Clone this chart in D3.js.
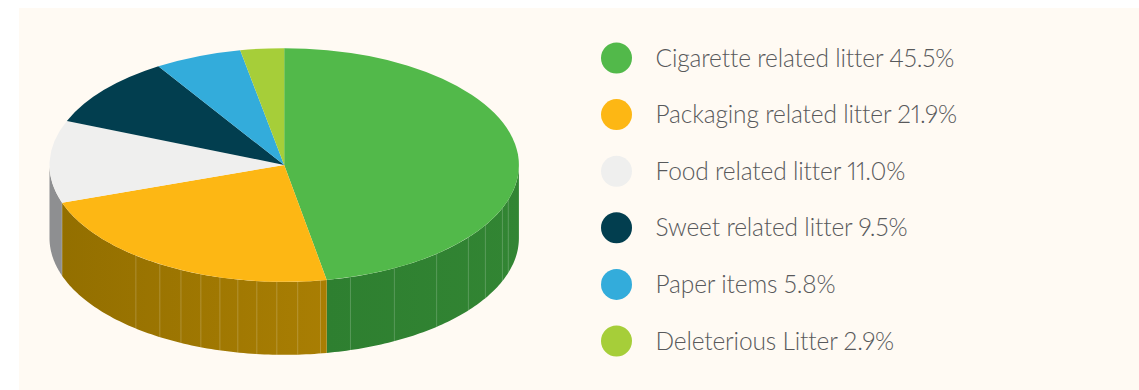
<!DOCTYPE html>
<html>
<head>
<meta charset="utf-8">
<script src="https://cdn.jsdelivr.net/npm/d3@7"></script>
<style>
  html, body { margin: 0; padding: 0; background: #ffffff; }
  svg { display: block; }
  text { font-family: Lato, "Open Sans", sans-serif; font-weight: 300; font-variant-numeric: proportional-nums; font-feature-settings: "pnum" 1; letter-spacing: -0.15px; }
</style>
</head>
<body>
<svg id="chart" width="1139" height="390"></svg>
<script>
// Litter composition
const categories = ["Cigarette related litter", "Packaging related litter", "Food related litter", "Sweet related litter", "Paper items", "Deleterious Litter"];
const shares = [45.5, 21.9, 11.0, 9.5, 5.8, 2.9];
const shareLabels = ["45.5%", "21.9%", "11.0%", "9.5%", "5.8%", "2.9%"];
const topColors = ["#52b94a", "#fdb714", "#efefee", "#023e4f", "#33acdb", "#a6ce39"];
const wallStart = ["#328533", "#a97e03", "#8e8f91", "#023e4f", "#33acdb", "#a6ce39"];
const wallEnd = ["#2e7f30", "#936f00", "#8e8f91", "#023e4f", "#33acdb", "#a6ce39"];
// Seams between the side-wall facets, in degrees clockwise from twelve o'clock
const seamDegrees = [107.3, 111.6, 121, 128.3, 139.5, 152, 163.6, 171.1, 176.7, 181.8, 186.7, 191.4, 195.9, 200.8, 206.1, 212, 219.2, 251.2];

const W = 1139, H = 390;
const radius = 234.7, tilt = 117 / 235, depth = 73;
const cx = 284.2, cy = 165;

const svg = d3.select("#chart");
svg.append("rect").attr("x", 19).attr("y", 8).attr("width", W - 19).attr("height", H - 8).attr("fill", "#fffaf3");

const pie = d3.pie().sort(null).value(d => d);
const arcs = pie(shares);
const arc = d3.arc().innerRadius(0).outerRadius(radius);

// Projects a clockwise angle (radians from twelve o'clock) onto the tilted disc
const rimX = a => cx + radius * Math.sin(a);
const rimY = a => cy - radius * tilt * Math.cos(a);
const rim = d3.line().x(d => rimX(d.a)).y(d => rimY(d.a) + d.z);

const defs = svg.append("defs");
const chart = svg.append("g");

// Side walls: only the part of each slice facing the viewer
const front = [Math.PI / 2, Math.PI * 3 / 2];
arcs.forEach((d, i) => {
  const a0 = Math.max(d.startAngle, front[0]);
  const a1 = Math.min(d.endAngle, front[1]);
  if (a1 <= a0) return;
  const angles = d3.range(0, 81).map(k => a0 + (a1 - a0) * k / 80);
  const outline = angles.map(a => ({ a, z: 0 })).concat(angles.slice().reverse().map(a => ({ a, z: depth })));
  const grad = defs.append("linearGradient").attr("id", "wall" + i)
    .attr("gradientUnits", "userSpaceOnUse")
    .attr("x1", rimX(a0)).attr("x2", rimX(a1)).attr("y1", 0).attr("y2", 0);
  grad.append("stop").attr("offset", 0).attr("stop-color", wallStart[i]);
  grad.append("stop").attr("offset", 1).attr("stop-color", wallEnd[i]);
  chart.append("path").attr("d", rim(outline) + "Z").attr("fill", `url(#wall${i})`);
});

chart.selectAll("line.seam").data(seamDegrees).join("line").attr("class", "seam")
  .attr("x1", d => rimX(d * Math.PI / 180))
  .attr("x2", d => rimX(d * Math.PI / 180))
  .attr("y1", d => rimY(d * Math.PI / 180))
  .attr("y2", d => rimY(d * Math.PI / 180) + depth)
  .attr("stroke", "#ffffff").attr("stroke-opacity", 0.2).attr("stroke-width", 1);

// Top face of the disc
chart.append("g")
  .attr("transform", `translate(${cx},${cy}) scale(1,${tilt})`)
  .selectAll("path").data(arcs).join("path")
  .attr("d", arc)
  .attr("fill", (d, i) => topColors[i]);

// Legend
const legendY = d3.scalePoint().domain(categories).range([58, 341]);
const legend = svg.append("g").selectAll("g").data(categories).join("g")
  .attr("transform", d => `translate(0,${legendY(d)})`);
legend.append("circle").attr("cx", 616.5).attr("r", 15.5).attr("fill", (d, i) => topColors[i]);
legend.append("text")
  .attr("x", 655.5).attr("y", 8.5)
  .attr("font-size", 24.5).attr("fill", "#58595b")
  .text((d, i) => `${d} ${shareLabels[i]}`);
</script>
</body>
</html>
